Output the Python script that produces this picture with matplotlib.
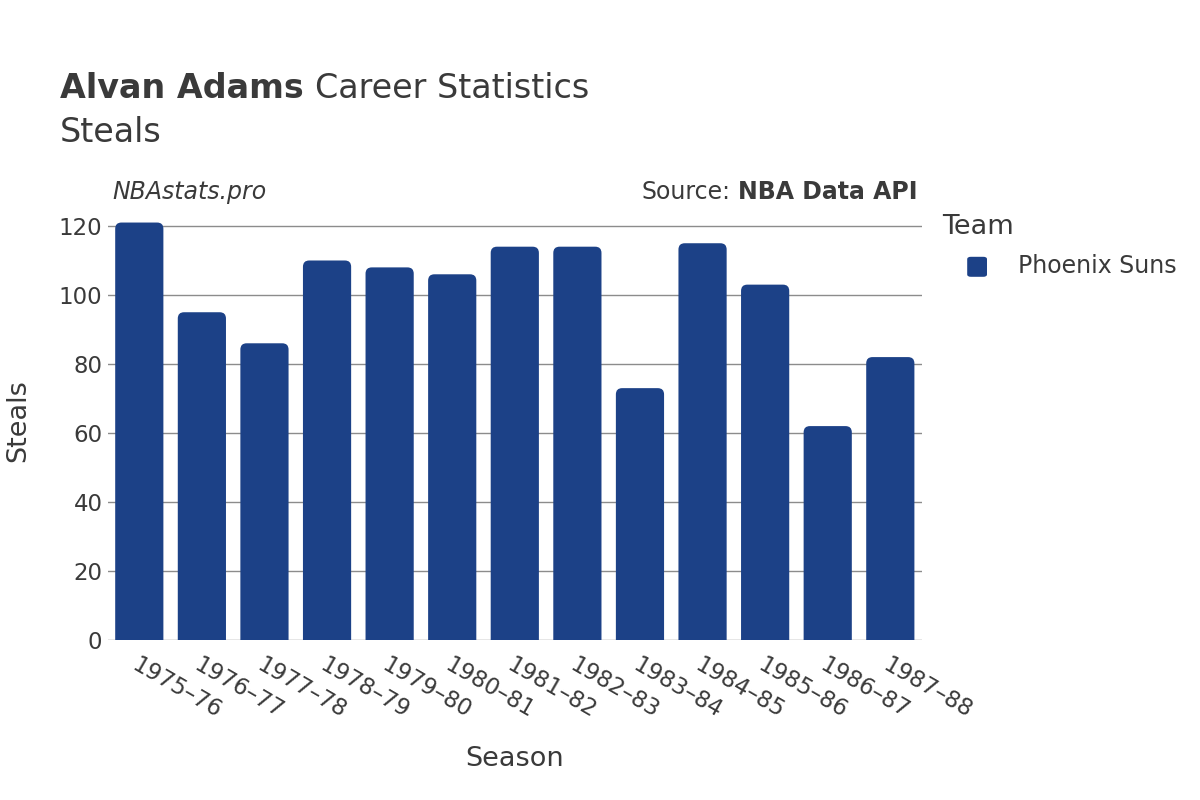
import matplotlib
matplotlib.use("Agg")
from matplotlib import pyplot as plt
from matplotlib.patches import FancyBboxPatch, PathPatch
from matplotlib.path import Path

seasons = ["1975-76", "1976-77", "1977-78", "1978-79", "1979-80", "1980-81", "1981-82",
           "1982-83", "1983-84", "1984-85", "1985-86", "1986-87", "1987-88"]
steals = [121, 95, 86, 110, 108, 106, 114, 114, 73, 115, 103, 62, 82]
team = "Phoenix Suns"

bar_color = "#1c4187"
text_color = "#3a3a3a"

plt.rcParams['font.family'] = ['DejaVu Sans']

fig = plt.figure(figsize=(12, 8), dpi=100)
ax_w, ax_h = 0.678, 0.549
ax = fig.add_axes([0.09, 0.2, ax_w, ax_h])

ymax = 127.3
ax.set_xlim(-0.5, len(seasons) - 0.5)
ax.set_ylim(0, ymax)

# bars with rounded top corners, one path each
w = 0.77
rx = 0.1
px_x = ax_w * 1200 / len(seasons)
px_y = ax_h * 800 / ymax
ry = rx * px_x / px_y
for i, v in enumerate(steals):
    x0, x1 = i - w / 2, i + w / 2
    verts = [(x0, 0), (x1, 0), (x1, v - ry), (x1, v), (x1 - rx, v),
             (x0 + rx, v), (x0, v), (x0, v - ry), (x0, 0)]
    codes = [Path.MOVETO, Path.LINETO, Path.LINETO, Path.CURVE3, Path.CURVE3,
             Path.LINETO, Path.CURVE3, Path.CURVE3, Path.CLOSEPOLY]
    ax.add_patch(PathPatch(Path(verts, codes), facecolor=bar_color,
                           edgecolor="none", zorder=3))

ax.set_yticks([0, 20, 40, 60, 80, 100, 120])
ax.set_xticks(range(len(seasons)))
ax.set_xticklabels([s.replace("-", "–") for s in seasons], rotation=-30,
                   ha="left", rotation_mode="anchor", fontsize=16.5, color=text_color)
ax.tick_params(axis="y", labelsize=16.5, labelcolor=text_color, length=0, pad=4)
ax.tick_params(axis="x", length=0, pad=10)
ax.grid(axis="y", color="#8c8c8c", linewidth=1, zorder=0)
ax.axhline(0, color="#e6e6e6", linewidth=2, zorder=2)
for s in ax.spines.values():
    s.set_visible(False)

ax.set_xlabel("Season", fontsize=19.5, color=text_color, labelpad=16)
ax.set_ylabel("Steals", fontsize=19.5, color=text_color, labelpad=20)

t1 = fig.text(0.05, 0.889, "Alvan Adams", fontsize=24, color=text_color,
              va="center", fontweight="bold")
fig.canvas.draw()
bb = t1.get_window_extent()
fig.text(bb.x1 / 1200 + 0.009, 0.889, "Career Statistics", fontsize=24,
         color=text_color, va="center")
fig.text(0.05, 0.835, "Steals", fontsize=24, color=text_color, va="center")

fig.text(0.094, 0.76, "NBAstats.pro", fontsize=17, style="italic",
         color=text_color, va="center")
src = fig.text(0.765, 0.76, "NBA Data API", fontsize=17, fontweight="bold",
               color=text_color, va="center", ha="right")
fig.canvas.draw()
sb = src.get_window_extent()
fig.text(sb.x0 / 1200 - 0.007, 0.76, "Source:", fontsize=17,
         color=text_color, va="center", ha="right")

# legend
fig.text(0.785, 0.716, "Team", fontsize=19.5, color=text_color, va="center")
fig.patches.append(FancyBboxPatch((0.806, 0.654), 0.0165, 0.025,
                                  boxstyle="round,pad=0,rounding_size=0.003",
                                  transform=fig.transFigure, facecolor=bar_color,
                                  edgecolor="none", figure=fig))
fig.text(0.848, 0.667, team, fontsize=17, color=text_color, va="center")

fig.savefig("out.png", dpi=100)
